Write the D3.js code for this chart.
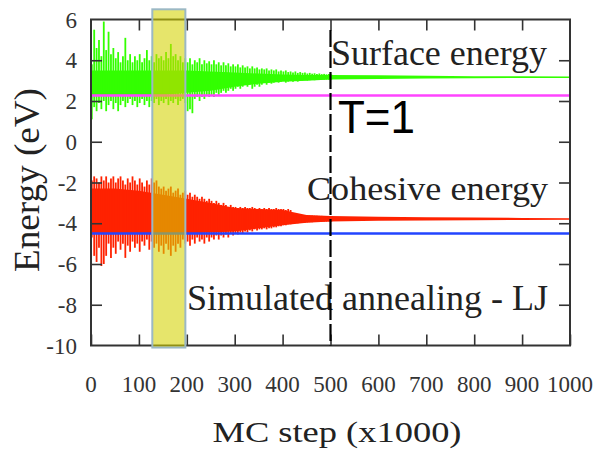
<!DOCTYPE html>
<html><head><meta charset="utf-8">
<script src="https://cdn.jsdelivr.net/npm/d3@7"></script>
<style>body{margin:0;background:#fff}svg{display:block}</style></head>
<body><svg id="c" width="599" height="451"></svg>
<script>
// ---- data ----
const xTickValues = [0,100,200,300,400,500,600,700,800,900,1000];
const yTickValues = [-10,-8,-6,-4,-2,0,2,4,6];
const xTickLabels = ["0","100","200","300","400","500","600","700","800","900","1000"];
const yTickLabels = ["-10","-8","-6","-4","-2","0","2","4","6"];

// sample positions (MC step x1000) of the noisy early part, every 5
const spikeSteps = d3.range(0, 501, 5);
// surface energy: spike maxima / minima
const surfHi = [3.8,5.5,4.6,5.0,4.2,5.9,4.5,5.4,4.3,4.6,4.1,4.4,3.9,4.2,5.1,4.0,4.3,3.9,4.2,4.0,
  4.3,3.9,4.1,4.5,4.0,4.2,3.9,4.3,4.1,4.2,4.0,4.4,4.1,4.8,4.2,4.3,4.0,4.2,3.9,4.1,
  3.9,4.1,3.8,4.0,3.9,4.1,3.8,4.0,3.85,3.95,3.8,4.0,3.8,3.9,3.75,3.9,3.75,3.85,3.7,3.8,
  3.7,3.8,3.65,3.75,3.65,3.7,3.6,3.7,3.6,3.65,3.55,3.6,3.55,3.6,3.5,3.55,3.5,3.55,3.45,3.5,
  3.45,3.5,3.42,3.45,3.4,3.45,3.38,3.42,3.38,3.4,3.35,3.38,3.34,3.36,3.33,3.35,3.32,3.33,3.31,3.32,
  3.3];
const surfLo = [1.1,1.7,1.5,1.9,1.6,2.0,1.5,1.8,2.0,1.6,1.9,1.5,1.8,2.0,1.7,1.9,2.1,1.8,2.0,1.7,
  1.9,2.1,1.8,2.0,1.7,2.0,1.9,2.1,1.8,2.0,1.9,2.1,1.8,2.0,1.9,2.1,1.8,2.0,2.1,1.9,
  1.5,1.6,1.4,2.1,2.2,2.0,2.2,2.1,2.3,2.2,2.3,2.2,2.4,2.3,2.4,2.5,2.4,2.5,2.6,2.5,
  2.6,2.7,2.6,2.7,2.8,2.7,2.8,2.6,2.7,2.8,2.7,2.8,2.9,2.8,2.9,2.85,2.9,2.95,2.9,2.95,
  3.0,2.9,2.95,3.0,2.95,3.0,2.95,3.0,3.0,3.02,3.0,3.02,3.03,3.02,3.03,3.04,3.03,3.04,3.05,3.04,
  3.05];
// cohesive energy: spike maxima / minima
const cohHi = [-1.9,-1.7,-1.8,-2.0,-1.7,-1.9,-1.7,-2.0,-1.8,-1.7,-2.0,-1.8,-1.7,-1.9,-2.1,-1.8,-2.0,-1.7,-1.9,-2.1,
  -1.8,-2.0,-2.2,-1.9,-2.1,-1.8,-2.0,-1.9,-2.2,-2.3,-2.2,-2.4,-2.3,-2.2,-2.5,-2.4,-2.3,-2.6,-2.5,-2.4,
  -2.6,-2.5,-2.7,-2.6,-2.7,-2.8,-2.7,-2.8,-2.9,-2.8,-2.9,-3.0,-2.9,-3.0,-3.1,-3.0,-3.1,-3.2,-3.1,-3.2,
  -3.2,-3.25,-3.2,-3.25,-3.2,-3.25,-3.25,-3.2,-3.25,-3.3,-3.25,-3.3,-3.25,-3.3,-3.25,-3.3,-3.3,-3.25,-3.3,-3.3,
  -3.3,-3.35,-3.3,-3.35,-3.55,-3.6,-3.58,-3.6,-3.6,-3.62,-3.6,-3.62,-3.62,-3.63,-3.63,-3.64,-3.64,-3.65,-3.65,-3.66,
  -3.66];
const cohLo = [-4.7,-5.6,-5.9,-5.2,-6.1,-6.0,-5.6,-5.0,-5.7,-5.2,-5.5,-4.9,-5.3,-5.0,-5.7,-5.1,-5.4,-4.9,-5.2,-5.0,
  -5.4,-4.9,-5.1,-4.8,-5.3,-4.9,-5.2,-5.0,-5.4,-5.1,-5.5,-5.0,-5.3,-5.6,-5.1,-5.4,-5.0,-5.2,-4.8,-5.0,
  -4.9,-5.1,-4.8,-5.0,-4.7,-4.9,-4.8,-5.0,-4.7,-4.9,-4.7,-4.8,-4.6,-4.8,-4.6,-4.7,-4.55,-4.7,-4.5,-4.6,
  -4.5,-4.55,-4.45,-4.5,-4.4,-4.45,-4.35,-4.4,-4.3,-4.35,-4.3,-4.3,-4.25,-4.3,-4.25,-4.25,-4.2,-4.2,-4.15,-4.15,
  -4.1,-4.1,-4.05,-4.05,-4.0,-4.0,-4.0,-3.98,-3.98,-3.97,-3.96,-3.95,-3.95,-3.94,-3.94,-3.93,-3.93,-3.92,-3.92,-3.92,
  -3.92];

// dense core band of each series
const coreSteps = [0,50,100,150,200,250,300,350,400,450,500,600,700,800,900,1000];
const surfCoreHi = [3.5,3.5,3.5,3.5,3.5,3.45,3.4,3.35,3.3,3.28,3.28,3.26,3.24,3.22,3.21,3.2];
const surfCoreLo = [2.3,2.3,2.3,2.3,2.4,2.5,2.7,2.85,2.95,3.0,3.05,3.08,3.1,3.12,3.13,3.13];
const cohCoreHi = [-2.3,-2.3,-2.4,-2.6,-2.8,-3.0,-3.25,-3.3,-3.35,-3.6,-3.65,-3.68,-3.7,-3.72,-3.74,-3.75];
const cohCoreLo = [-4.5,-4.5,-4.5,-4.5,-4.5,-4.45,-4.4,-4.25,-4.1,-3.97,-3.92,-3.88,-3.86,-3.85,-3.84,-3.83];

// reference levels
const surfRef = 2.27;
const cohRef = -4.5;
const tempMarkStep = 500;
const highlightSteps = [128, 197];
const highlightEnergy = [-10.1, 6.5];

// ---- drawing ----
const svg = d3.select("#c");
const L = 91, R = 570, T = 19.5, B = 345.5;
const x = d3.scaleLinear().domain([0,1000]).range([L,R]);
const y = d3.scaleLinear().domain([-10,6]).range([B,T]);
const serif = "'Liberation Serif','Times New Roman',serif";
const green = "#33ff00", red = "#ff2200";

function band(g, steps, hi, lo, color){
  g.append("path")
    .attr("d", d3.area().x((d,i)=>x(steps[i])).y0((d,i)=>y(lo[i])).y1((d,i)=>y(hi[i]))(steps))
    .attr("fill", color);
}
function spikes(g, steps, hi, lo, color){
  g.selectAll(null).data(steps).enter().append("line")
    .attr("x1",(d)=>x(d)+0.8).attr("x2",(d)=>x(d)+0.8)
    .attr("y1",(d,i)=>y(hi[i])).attr("y2",(d,i)=>y(lo[i]))
    .attr("stroke",color).attr("stroke-width",1.8);
}
const data = svg.append("g");
band(data, coreSteps, surfCoreHi, surfCoreLo, green);
spikes(data, spikeSteps, surfHi, surfLo, green);
band(data, coreSteps, cohCoreHi, cohCoreLo, red);
spikes(data, spikeSteps, cohHi, cohLo, red);

// reference lines
svg.append("line").attr("x1",x(0)).attr("x2",x(1000)).attr("y1",y(surfRef)).attr("y2",y(surfRef))
  .attr("stroke","#ff44ff").attr("stroke-width",2.5);
svg.append("line").attr("x1",x(0)).attr("x2",x(1000)).attr("y1",y(cohRef)).attr("y2",y(cohRef))
  .attr("stroke","#2244ff").attr("stroke-width",2.5);

// axes frame
const axisColor = "#333";
svg.append("rect").attr("x",L).attr("y",T).attr("width",R-L).attr("height",B-T)
  .attr("fill","none").attr("stroke",axisColor).attr("stroke-width",2);

const tickLen = 11;
const axB = d3.axisBottom(x).tickValues(xTickValues).tickSize(-tickLen).tickFormat("");
const axT = d3.axisTop(x).tickValues(xTickValues.slice(1,-1)).tickSize(-tickLen).tickFormat("");
const axL = d3.axisLeft(y).tickValues(yTickValues.slice(1,-1)).tickSize(-tickLen).tickFormat("");
const axR = d3.axisRight(y).tickValues(yTickValues.slice(1,-1)).tickSize(-tickLen).tickFormat("");
[[axB,`translate(0,${B})`],[axT,`translate(0,${T})`],[axL,`translate(${L},0)`],[axR,`translate(${R},0)`]].forEach(([a,t])=>{
  const g = svg.append("g").attr("transform",t).call(a);
  g.select(".domain").remove();
  g.selectAll("line").attr("stroke",axisColor).attr("stroke-width",1.6);
});

// tick labels
svg.append("g").selectAll("text").data(xTickValues).enter().append("text")
  .attr("x",d=>x(d)).attr("y",392).attr("text-anchor","middle")
  .attr("font-family",serif).attr("font-size",23).attr("fill","#333")
  .text((d,i)=>xTickLabels[i]);
svg.append("g").selectAll("text").data(yTickValues).enter().append("text")
  .attr("x",77).attr("y",d=>y(d)+8).attr("text-anchor","end")
  .attr("font-family",serif).attr("font-size",23).attr("fill","#333")
  .text((d,i)=>yTickLabels[i]);

// highlight box
svg.append("rect")
  .attr("x",x(highlightSteps[0])).attr("width",x(highlightSteps[1])-x(highlightSteps[0]))
  .attr("y",y(highlightEnergy[1])).attr("height",y(highlightEnergy[0])-y(highlightEnergy[1]))
  .attr("fill","rgb(212,210,0)").attr("fill-opacity",0.58)
  .attr("stroke","#9bb8c4").attr("stroke-width",2);

// annotations
function label(txt, px, py, len, size, fam, col){
  svg.append("text").attr("x",px).attr("y",py).attr("font-family",fam).attr("font-size",size)
    .attr("fill",col).attr("textLength",len).attr("lengthAdjust","spacingAndGlyphs").text(txt);
}
label("Surface energy", 331, 65, 216, 35, serif, "#222");
label("Cohesive energy", 307, 200, 241, 34, serif, "#222");
label("Simulated annealing - LJ", 187, 310, 361, 35, serif, "#222");
label("T=1", 338, 133, 77, 46, "'Liberation Sans',Arial,sans-serif", "#000");

// temperature mark
svg.append("line").attr("x1",x(tempMarkStep)).attr("x2",x(tempMarkStep)).attr("y1",30).attr("y2",B)
  .attr("stroke","#000").attr("stroke-width",2.2).attr("stroke-dasharray","17,4");

// axis titles
svg.append("text").attr("x",337).attr("y",442).attr("text-anchor","middle")
  .attr("font-family",serif).attr("font-size",30).attr("fill","#222")
  .attr("textLength",249).attr("lengthAdjust","spacingAndGlyphs").text("MC step (x1000)");
svg.append("text").attr("transform","translate(39,180) rotate(-90)").attr("text-anchor","middle")
  .attr("font-family",serif).attr("font-size",36).attr("fill","#222")
  .attr("textLength",184).attr("lengthAdjust","spacingAndGlyphs").text("Energy (eV)");
</script></body></html>
